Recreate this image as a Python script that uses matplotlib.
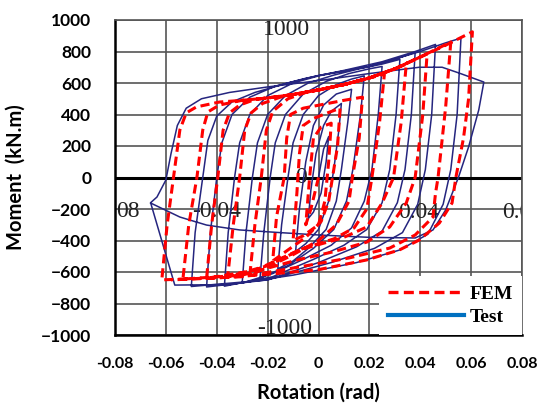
import matplotlib
matplotlib.use("Agg")
import matplotlib.pyplot as plt
from matplotlib.lines import Line2D

# ---- FEM hysteresis (rotation rad, moment kN.m), one list per cycle
fem_c1 = [(0.0, 0), (-0.003, -200), (-0.005, -300), (-0.0035, 0), (-0.002, 250), (0.001, 320),
          (0.005, 345), (0.004, 100), (0.0025, -150), (0.0, -300), (-0.006, -370), (-0.010, -400)]
fem_c2 = [(-0.0085, -100), (-0.0075, 150), (-0.006, 330), (-0.002, 375), (0.0035, 410), (0.0085, 440),
          (0.0075, 200), (0.0055, 0), (0.004, -150), (0.001, -280), (-0.005, -380), (-0.012, -460),
          (-0.018, -530)]
fem_c3 = [(-0.0165, -250), (-0.0135, 0), (-0.0125, 250), (-0.011, 400), (-0.006, 440), (0.002, 465),
          (0.010, 490), (0.0173, 510), (0.016, 250), (0.0133, 0), (0.012, -150), (0.007, -300),
          (0.0, -400), (-0.010, -490), (-0.020, -570), (-0.027, -620)]
fem_c4 = [(-0.025, -300), (-0.0225, 0), (-0.0205, 300), (-0.018, 420), (-0.012, 500), (-0.005, 540),
          (0.0, 556), (0.01, 590), (0.02, 632), (0.0259, 655), (0.024, 350), (0.021, 0), (0.019, -200),
          (0.014, -320), (0.006, -390), (-0.006, -450), (-0.02, -560), (-0.0357, -630)]
fem_c5 = [(-0.0335, -300), (-0.031, 0), (-0.029, 300), (-0.0265, 410), (-0.022, 470), (-0.015, 510),
          (-0.01, 527), (0.0, 556), (0.01, 590), (0.02, 632), (0.03, 690), (0.0345, 720),
          (0.0325, 350), (0.0295, 0), (0.025, -162), (0.019, -314), (0.0094, -384), (-0.0075, -460),
          (-0.025, -590), (-0.044, -640)]
fem_c6 = [(-0.042, -300), (-0.0396, 0), (-0.0375, 300), (-0.035, 410), (-0.031, 460), (-0.025, 495),
          (-0.02, 505), (-0.01, 527), (0.0, 556), (0.01, 590), (0.02, 632), (0.03, 690), (0.0427, 785),
          (0.041, 400), (0.038, 0), (0.0345, -162), (0.028, -314), (0.019, -410), (0.0055, -473),
          (-0.0075, -520), (-0.03, -620), (-0.0533, -645)]
fem_c7 = [(-0.051, -300), (-0.0478, 0), (-0.0455, 302), (-0.0435, 416), (-0.039, 460), (-0.03, 490),
          (-0.02, 505), (-0.01, 527), (0.0, 556), (0.01, 590), (0.02, 632), (0.03, 690), (0.04, 765),
          (0.052, 860), (0.050, 450), (0.047, 0), (0.046, -100), (0.045, -251), (0.038, -365),
          (0.028, -448), (0.012, -511), (-0.0075, -568), (-0.03, -630), (-0.0616, -650)]
fem_c8 = [(-0.0595, -300), (-0.057, 0), (-0.0545, 302), (-0.052, 410), (-0.048, 448), (-0.039, 479),
          (-0.03, 490), (-0.02, 505), (-0.01, 527), (0.0, 556), (0.01, 590), (0.02, 632), (0.03, 690),
          (0.04, 765), (0.05, 840), (0.0605, 925), (0.059, 500), (0.057, 250), (0.054, 0),
          (0.0525, -162), (0.0475, -289), (0.0396, -397), (0.0318, -460), (0.0188, -524),
          (0.0, -585), (-0.02, -615), (-0.04, -638), (-0.058, -650)]

# ---- Test hysteresis (scanned curves)
test_c1 = [(0.0, 0), (0.002, 180), (0.004, 260), (0.003, 100), (0.001, -100), (-0.002, -220),
           (-0.004, -260)]
test_c2 = [(-0.003, -80), (-0.001, 150), (0.002, 330), (0.005, 420), (0.009, 470), (0.008, 300),
           (0.006, 50), (0.004, -150), (0.0, -330), (-0.005, -420), (-0.009, -470)]
test_c3 = [(-0.0075, -200), (-0.005, 100), (-0.002, 330), (0.002, 460), (0.007, 530), (0.013, 560),
           (0.0115, 350), (0.009, 50), (0.007, -150), (0.003, -330), (-0.004, -450), (-0.010, -530),
           (-0.016, -580)]
test_c4 = [(-0.0145, -300), (-0.012, 0), (-0.010, 220), (-0.006, 400), (0.0, 520), (0.007, 590),
           (0.013, 625), (0.018, 645), (0.0165, 400), (0.0135, 50), (0.011, -150), (0.006, -330),
           (-0.002, -450), (-0.012, -560), (-0.023, -640)]
test_c5 = [(-0.0215, -350), (-0.019, 0), (-0.017, 220), (-0.013, 400), (-0.006, 530), (0.003, 610),
           (0.012, 660), (0.02, 690), (0.025, 705), (0.0235, 400), (0.021, 50), (0.018, -150),
           (0.013, -320), (0.005, -430), (-0.006, -520), (-0.018, -610), (-0.030, -670)]
test_c6 = [(-0.0285, -350), (-0.026, 0), (-0.024, 220), (-0.020, 400), (-0.013, 520), (-0.004, 600),
           (0.006, 650), (0.016, 690), (0.025, 720), (0.032, 750), (0.0305, 400), (0.028, 50),
           (0.025, -160), (0.019, -330), (0.010, -430), (-0.002, -520), (-0.018, -630), (-0.037, -690)]
test_c7 = [(-0.0355, -350), (-0.033, 0), (-0.031, 220), (-0.027, 400), (-0.020, 520), (-0.010, 600),
           (0.0, 645), (0.01, 675), (0.02, 705), (0.03, 750), (0.038, 795), (0.0365, 400), (0.034, 50),
           (0.031, -160), (0.025, -340), (0.015, -440), (0.0, -540), (-0.02, -650), (-0.044, -695)]
test_c8 = [(-0.0425, -350), (-0.040, 0), (-0.038, 220), (-0.034, 400), (-0.027, 510), (-0.017, 580),
           (-0.005, 630), (0.01, 680), (0.025, 735), (0.038, 800), (0.046, 845), (0.0445, 400),
           (0.042, 50), (0.039, -170), (0.033, -350), (0.022, -450), (0.005, -540), (-0.02, -650),
           (-0.05, -692)]
test_c9 = [(-0.0485, -350), (-0.0455, 0), (-0.0435, 235), (-0.040, 390), (-0.034, 480), (-0.025, 540),
           (-0.012, 600), (0.0, 648), (0.02, 705), (0.04, 800), (0.05, 855), (0.056, 885),
           (0.0545, 400), (0.052, 50), (0.049, -170), (0.043, -360), (0.032, -460), (0.015, -540),
           (-0.01, -620), (-0.035, -680), (-0.0565, -683), (-0.066, -160)]
test_c10 = [(-0.0635, -124), (-0.060, -16), (-0.058, 150), (-0.0555, 330), (-0.052, 440), (-0.046, 500),
            (-0.035, 540), (-0.02, 575), (0.0, 615), (0.02, 660), (0.0396, 700), (0.0486, 700),
            (0.0553, 663), (0.065, 606), (0.063, 429), (0.059, 194), (0.055, 0), (0.050, -206),
            (0.045, -333), (0.038, -384), (0.02, -380), (0.0, -365), (-0.015, -350), (-0.031, -333),
            (-0.044, -302), (-0.0545, -251), (-0.066, -162)]

x_ticks = [-0.08, -0.06, -0.04, -0.02, 0, 0.02, 0.04, 0.06, 0.08]
x_tick_labels = ['-0.08', '-0.06', '-0.04', '-0.02', '0', '0.02', '0.04', '0.06', '0.08']
y_ticks = list(range(-1000, 1001, 200))

fem_path = fem_c1 + fem_c2 + fem_c3 + fem_c4 + fem_c5 + fem_c6 + fem_c7 + fem_c8
test_path = (test_c1 + test_c2 + test_c3 + test_c4 + test_c5 + test_c6 + test_c7 + test_c8
             + test_c9 + test_c10)

fig = plt.figure(figsize=(5.44, 4.04), dpi=100)
ax = fig.add_axes([115 / 544, 1 - 335 / 404, 407 / 544, 315 / 404])

ax.set_xlim(-0.08, 0.08)
ax.set_ylim(-1000, 1000)
ax.set_xticks(x_ticks)
ax.set_xticklabels(x_tick_labels)
ax.set_yticks(y_ticks)
ax.grid(True, color='#555555', lw=1.2, zorder=0)
ax.set_axisbelow(True)
ax.tick_params(length=0)
ax.tick_params(axis='x', pad=16, labelsize=11.5)
ax.tick_params(axis='y', pad=17, labelsize=12.5)
for lab in ax.get_xticklabels() + ax.get_yticklabels():
    lab.set_fontweight('bold')
    lab.set_family('Lato')

for side in ['left', 'bottom']:
    ax.spines[side].set_color('black')
    ax.spines[side].set_linewidth(1.8)
for side in ['top', 'right']:
    ax.spines[side].set_color('#555555')
    ax.spines[side].set_linewidth(1.2)

# leftovers of the scanned test figure under the plot
ax.axhline(0, color='black', lw=2.2, zorder=1)
scan_kw = dict(color='#222222', family='Liberation Serif', fontsize=17, clip_on=True, zorder=1)
ax.text(-0.0125, 905, '1000', ha='center', va='baseline', **scan_kw)
ax.text(-0.0133, -890, '-1000', ha='center', va='top', **scan_kw)
ax.text(-0.0795, -213, '08', ha='left', va='center', **scan_kw)
ax.text(-0.040, -215, '-0.04', ha='center', va='center', **scan_kw)
ax.text(0.0392, -225, '0.04', ha='center', va='center', **scan_kw)
ax.text(0.0722, -225, '0.0', ha='left', va='center', **scan_kw)
ax.text(-0.0067, 0, '0', ha='center', va='center', **scan_kw)

tx = [p[0] for p in test_path]
ty = [p[1] for p in test_path]
ax.plot(tx, ty, color='#25257f', lw=1.1, zorder=2)

fx = [p[0] for p in fem_path]
fy = [p[1] for p in fem_path]
ax.plot(fx, fy, color='red', lw=2.2, ls='--', dashes=(3, 1.6), zorder=3)

handles = [Line2D([], [], color='red', lw=2.4, ls='--', dashes=(3, 1.6)),
           Line2D([], [], color='#0070C0', lw=3)]
leg = ax.legend(handles, ['FEM', 'Test'], loc='lower right', borderaxespad=0.0,
                prop=dict(family='Liberation Serif', weight='bold', size=14),
                handlelength=3.9, handletextpad=0.3, labelspacing=0.3,
                frameon=True, fancybox=False, framealpha=1, borderpad=0.45)
leg.get_frame().set_edgecolor('none')
leg.set_zorder(5)

ax.set_xlabel('Rotation (rad)', fontsize=14.5, fontweight='bold', family='Lato', labelpad=8)
ax.set_ylabel('Moment  (kN.m)', fontsize=14.5, fontweight='bold', family='Lato', labelpad=11)

fig.savefig('out.png', dpi=100)
